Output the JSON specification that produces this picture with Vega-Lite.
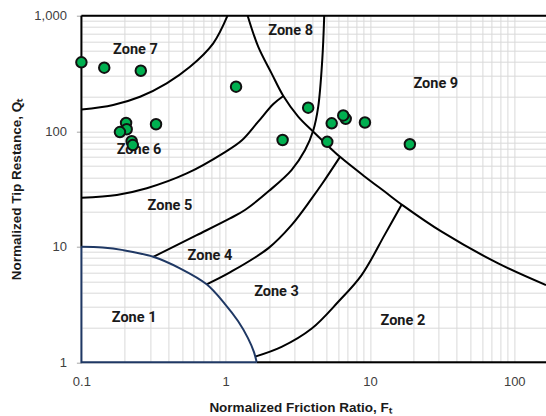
{
  "$schema": "https://vega.github.io/schema/vega-lite/v6.json",
  "width": 464.6,
  "height": 346.6,
  "autosize": {"type": "none"},
  "padding": {"left": 81.4, "top": 15.7, "right": 0, "bottom": 53.7},
  "background": "white",
  "config": {"view": {"stroke": null}},
  "datasets": {
    "frame": [
      {"id": "top", "i": 0, "x": 0.1, "y": 1000}, {"id": "top", "i": 1, "x": 166, "y": 1000},
      {"id": "left", "i": 0, "x": 0.1, "y": 10}, {"id": "left", "i": 1, "x": 0.1, "y": 1000},
      {"id": "bottom", "i": 0, "x": 1.64, "y": 1}, {"id": "bottom", "i": 1, "x": 166, "y": 1}
    ],
    "black": [
      {"id": "B", "i": 0, "x": 0.1, "y": 154}, {"id": "B", "i": 1, "x": 0.166, "y": 169}, {"id": "B", "i": 2, "x": 0.255, "y": 199}, {"id": "B", "i": 3, "x": 0.39, "y": 260}, {"id": "B", "i": 4, "x": 0.566, "y": 361}, {"id": "B", "i": 5, "x": 0.82, "y": 577}, {"id": "B", "i": 6, "x": 1.03, "y": 1000},
      {"id": "C", "i": 0, "x": 1.42, "y": 1000}, {"id": "C", "i": 1, "x": 1.68, "y": 540}, {"id": "C", "i": 2, "x": 2.08, "y": 317}, {"id": "C", "i": 3, "x": 2.51, "y": 202}, {"id": "C", "i": 4, "x": 3.18, "y": 134}, {"id": "C", "i": 5, "x": 4.05, "y": 99}, {"id": "C", "i": 6, "x": 4.88, "y": 79.1}, {"id": "C", "i": 7, "x": 6.2, "y": 60}, {"id": "C", "i": 8, "x": 9.23, "y": 40.4}, {"id": "C", "i": 9, "x": 12.7, "y": 29.9}, {"id": "C", "i": 10, "x": 17.0, "y": 22.7}, {"id": "C", "i": 11, "x": 31.4, "y": 13.5}, {"id": "C", "i": 12, "x": 77.4, "y": 7.18}, {"id": "C", "i": 13, "x": 166, "y": 4.66},
      {"id": "D", "i": 0, "x": 4.82, "y": 1000}, {"id": "D", "i": 1, "x": 4.67, "y": 413}, {"id": "D", "i": 2, "x": 4.38, "y": 163}, {"id": "D", "i": 3, "x": 4.05, "y": 102}, {"id": "D", "i": 4, "x": 3.55, "y": 68.7}, {"id": "D", "i": 5, "x": 2.86, "y": 46.1}, {"id": "D", "i": 6, "x": 2.0, "y": 30.5}, {"id": "D", "i": 7, "x": 1.36, "y": 20.8}, {"id": "D", "i": 8, "x": 1.071, "y": 17.6}, {"id": "D", "i": 9, "x": 0.63, "y": 12.6}, {"id": "D", "i": 10, "x": 0.315, "y": 8.19},
      {"id": "E", "i": 0, "x": 0.1, "y": 26.5}, {"id": "E", "i": 1, "x": 0.176, "y": 28.1}, {"id": "E", "i": 2, "x": 0.284, "y": 32.1}, {"id": "E", "i": 3, "x": 0.537, "y": 43.1}, {"id": "E", "i": 4, "x": 0.99, "y": 66}, {"id": "E", "i": 5, "x": 1.29, "y": 83}, {"id": "E", "i": 6, "x": 1.68, "y": 121}, {"id": "E", "i": 7, "x": 2.14, "y": 172}, {"id": "E", "i": 8, "x": 2.51, "y": 202},
      {"id": "F", "i": 0, "x": 0.738, "y": 4.73}, {"id": "F", "i": 1, "x": 1.07, "y": 6.0}, {"id": "F", "i": 2, "x": 1.97, "y": 9.69}, {"id": "F", "i": 3, "x": 2.86, "y": 15.4}, {"id": "F", "i": 4, "x": 3.95, "y": 26.2}, {"id": "F", "i": 5, "x": 4.7, "y": 35.6}, {"id": "F", "i": 6, "x": 6.2, "y": 60},
      {"id": "G", "i": 0, "x": 1.6, "y": 1.12}, {"id": "G", "i": 1, "x": 2.44, "y": 1.36}, {"id": "G", "i": 2, "x": 3.95, "y": 1.96}, {"id": "G", "i": 3, "x": 6.03, "y": 3.34}, {"id": "G", "i": 4, "x": 8.75, "y": 5.69}, {"id": "G", "i": 5, "x": 12.7, "y": 12.8}, {"id": "G", "i": 6, "x": 16.6, "y": 23.2}
    ],
    "blueframe": [
      {"i": 0, "x": 0.1, "y": 10}, {"i": 1, "x": 0.1, "y": 1}, {"i": 2, "x": 1.64, "y": 1}
    ],
    "bluearc": [
      {"i": 0, "x": 0.1, "y": 10}, {"i": 1, "x": 0.14, "y": 9.85}, {"i": 2, "x": 0.195, "y": 9.35}, {"i": 3, "x": 0.315, "y": 8.19}, {"i": 4, "x": 0.482, "y": 6.5}, {"i": 5, "x": 0.738, "y": 4.73}, {"i": 6, "x": 0.989, "y": 3.19}, {"i": 7, "x": 1.217, "y": 2.275}, {"i": 8, "x": 1.427, "y": 1.62}, {"i": 9, "x": 1.571, "y": 1.225}, {"i": 10, "x": 1.64, "y": 1}
    ],
    "points": [
      {"x": 0.1, "y": 395}, {"x": 0.144, "y": 355}, {"x": 0.258, "y": 334},
      {"x": 0.204, "y": 118}, {"x": 0.206, "y": 104}, {"x": 0.185, "y": 98.4}, {"x": 0.223, "y": 81.9}, {"x": 0.227, "y": 75.9}, {"x": 0.329, "y": 115},
      {"x": 1.18, "y": 243}, {"x": 2.48, "y": 84}, {"x": 3.73, "y": 160}, {"x": 5.43, "y": 117}, {"x": 6.79, "y": 128}, {"x": 6.53, "y": 137}, {"x": 9.23, "y": 119}, {"x": 5.06, "y": 81}, {"x": 18.9, "y": 77.1}
    ],
    "labels": [
      {"label": "Zone 7", "x": 0.237, "y": 501}, {"label": "Zone 6", "x": 0.251, "y": 68.7}, {"label": "Zone 8", "x": 2.82, "y": 738}, {"label": "Zone 9", "x": 28.6, "y": 257}, {"label": "Zone 5", "x": 0.411, "y": 22.6}, {"label": "Zone 4", "x": 0.778, "y": 8.32}, {"label": "Zone 3", "x": 2.25, "y": 4.07}, {"label": "Zone 1", "x": 0.232, "y": 2.4}, {"label": "Zone 2", "x": 16.9, "y": 2.28}
    ]
  },
  "encoding": {
    "x": {
      "field": "x", "type": "quantitative",
      "scale": {"type": "log", "domain": [0.1, 166]},
      "axis": {
        "values": [0.1, 0.2, 0.3, 0.4, 0.5, 0.6, 0.7, 0.8, 0.9, 1, 2, 3, 4, 5, 6, 7, 8, 9, 10, 20, 30, 40, 50, 60, 70, 80, 90, 100],
        "format": "~g",
        "labelExpr": "indexof([0.1, 1, 10, 100], datum.value) >= 0 ? datum.label : ''",
        "labelOverlap": false, "labelFlush": false,
        "grid": true, "gridColor": "#d9d9d9", "gridWidth": 1,
        "domain": false, "ticks": false, "labelPadding": 13,
        "labelFont": "Liberation Sans", "labelFontSize": 13, "labelColor": "#404040",
        "title": "Normalized Friction Ratio, Fₜ",
        "titleFont": "Liberation Sans", "titleFontSize": 13.5, "titleFontWeight": "bold", "titleColor": "#1a1a1a",
        "titleX": 218.6, "titleY": 49.5, "titleBaseline": "alphabetic", "titleAlign": "center"
      }
    },
    "y": {
      "field": "y", "type": "quantitative",
      "scale": {"type": "log", "domain": [1, 1000]},
      "axis": {
        "values": [1, 2, 3, 4, 5, 6, 7, 8, 9, 10, 20, 30, 40, 50, 60, 70, 80, 90, 100, 200, 300, 400, 500, 600, 700, 800, 900, 1000],
        "format": ",~g",
        "labelExpr": "indexof([1, 10, 100, 1000], datum.value) >= 0 ? datum.label : ''",
        "labelOverlap": false, "labelFlush": false,
        "grid": true, "gridColor": "#d9d9d9", "gridWidth": 1,
        "domain": false, "tickSize": 5,
        "tickColor": {"condition": {"test": "indexof([1, 10, 100, 1000], datum.value) >= 0", "value": "#a6a6a6"}, "value": "transparent"},
        "labelPadding": 10,
        "labelFont": "Liberation Sans", "labelFontSize": 13, "labelColor": "#404040",
        "title": "Normalized Tip Restance, Qₜ",
        "titleFont": "Liberation Sans", "titleFontSize": 13.5, "titleFontWeight": "bold", "titleColor": "#1a1a1a",
        "titleX": -65, "titleY": 173.3, "titleBaseline": "middle", "titleAlign": "center", "titleAngle": -90
      }
    }
  },
  "layer": [
    {
      "data": {"name": "frame"},
      "mark": {"type": "line", "color": "#000000", "strokeWidth": 2, "clip": false},
      "encoding": {"detail": {"field": "id"}, "order": {"field": "i", "type": "quantitative"}}
    },
    {
      "data": {"name": "black"},
      "mark": {"type": "line", "color": "#000000", "strokeWidth": 2, "clip": false, "interpolate": "catmull-rom"},
      "encoding": {"detail": {"field": "id"}, "order": {"field": "i", "type": "quantitative"}}
    },
    {
      "data": {"name": "blueframe"},
      "mark": {"type": "line", "color": "#1f3864", "strokeWidth": 2, "clip": false},
      "encoding": {"order": {"field": "i", "type": "quantitative"}}
    },
    {
      "data": {"name": "bluearc"},
      "mark": {"type": "line", "color": "#1f3864", "strokeWidth": 2, "clip": false, "interpolate": "catmull-rom"},
      "encoding": {"order": {"field": "i", "type": "quantitative"}}
    },
    {
      "data": {"name": "labels"},
      "mark": {"type": "text", "font": "Roboto", "fontWeight": "bold", "fontSize": 14.5, "color": "#1a1a1a", "align": "center", "baseline": "middle"},
      "encoding": {"text": {"field": "label"}}
    },
    {
      "data": {"name": "points"},
      "mark": {"type": "point", "shape": "circle", "filled": true, "size": 110, "fill": "#00b050", "stroke": "#111111", "strokeWidth": 2, "opacity": 1, "clip": false}
    }
  ]
}
